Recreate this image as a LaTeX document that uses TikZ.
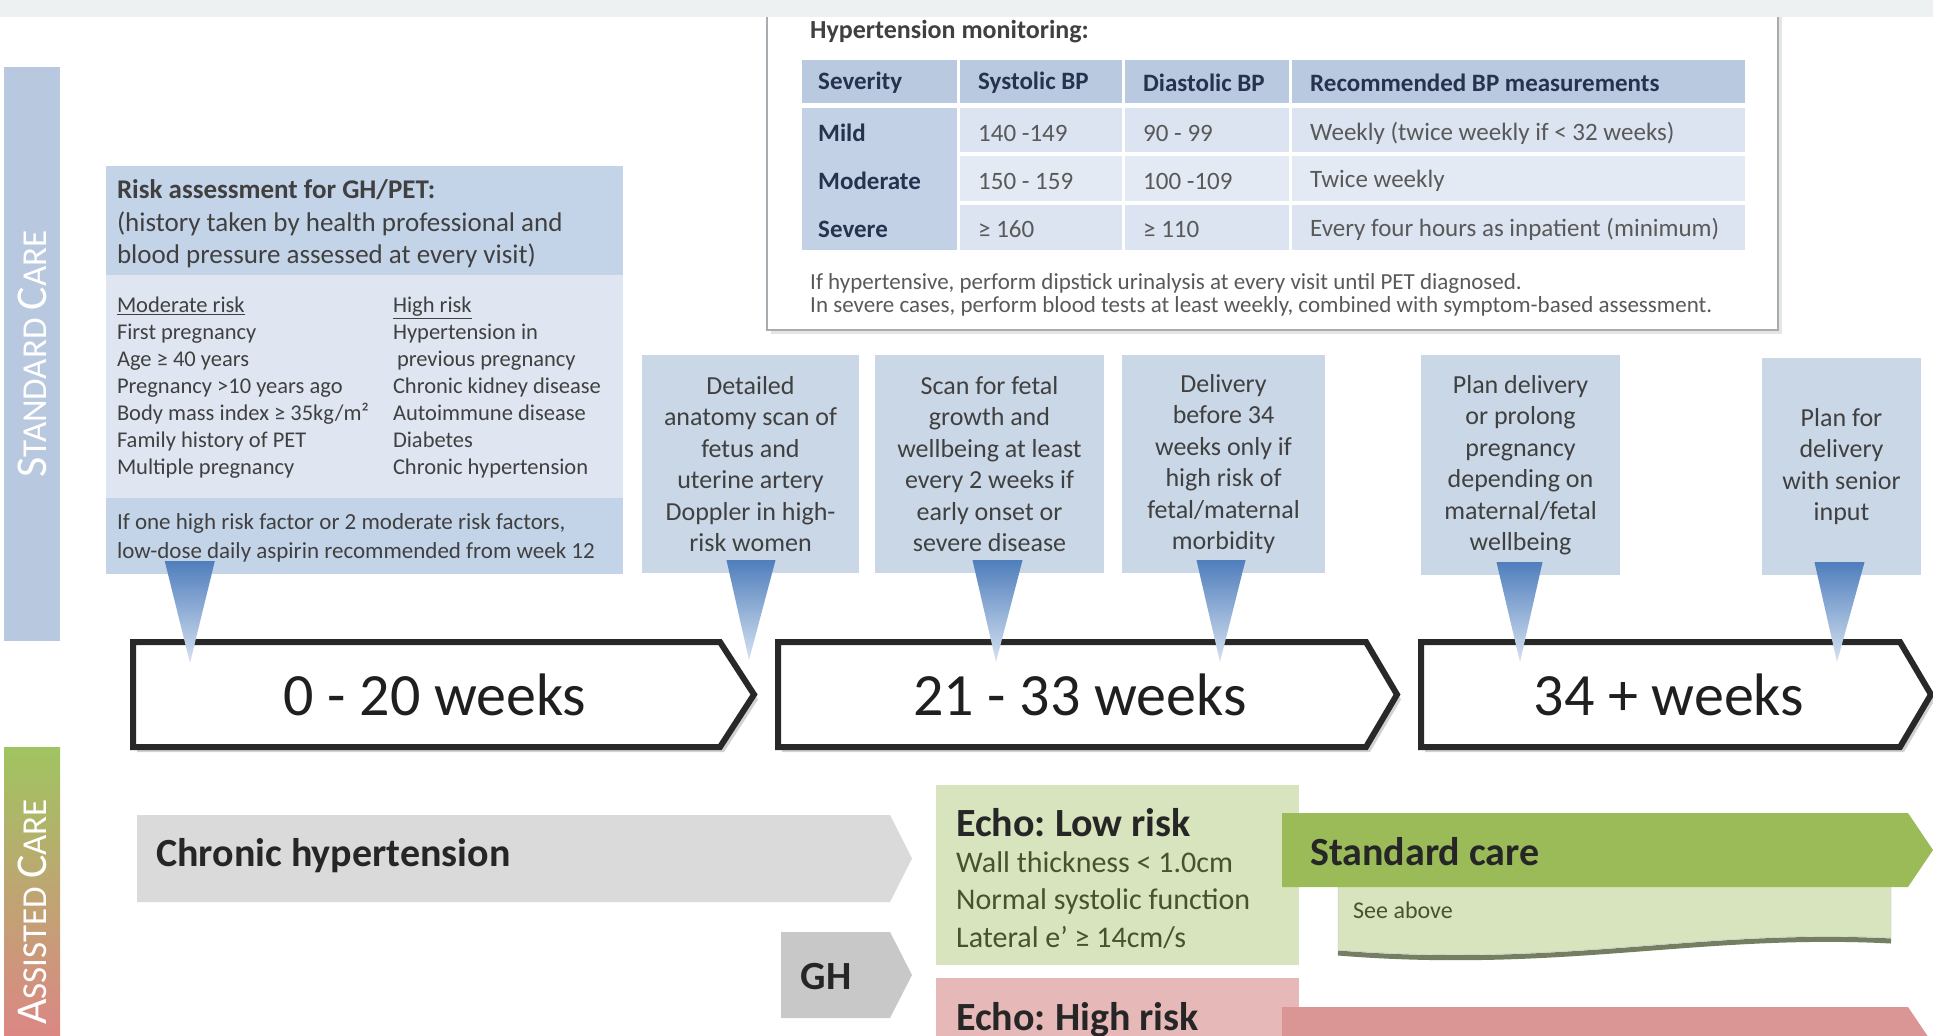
\documentclass[tikz,border=0pt]{standalone}
\usepackage{fontspec}
\setmainfont{Carlito}
\usetikzlibrary{positioning}
\frenchspacing
\definecolor{stripgray}{RGB}{238,241,241}
\definecolor{sidebar}{RGB}{184,200,223}
\definecolor{riskhead}{RGB}{196,212,232}
\definecolor{riskbody}{RGB}{223,230,241}
\definecolor{calloutblue}{RGB}{202,215,231}
\definecolor{tailtop}{RGB}{79,126,188}
\definecolor{tailbot}{RGB}{214,226,241}
\definecolor{tablehead}{RGB}{184,201,224}
\definecolor{tablecol}{RGB}{195,209,230}
\definecolor{rowlight}{RGB}{219,228,240}
\definecolor{rowpale}{RGB}{228,234,243}
\definecolor{framegray}{RGB}{168,173,178}
\definecolor{weekline}{RGB}{40,40,40}
\definecolor{chronicgray}{RGB}{218,218,218}
\definecolor{ghgray}{RGB}{200,200,200}
\definecolor{lowgreen}{RGB}{215,228,189}
\definecolor{highpink}{RGB}{230,185,184}
\definecolor{caregreen}{RGB}{155,187,89}
\definecolor{carered}{RGB}{217,150,148}
\definecolor{acgreen}{RGB}{160,196,96}
\definecolor{acmid}{RGB}{214,205,150}
\definecolor{acred}{RGB}{220,135,132}
\definecolor{inkgray}{RGB}{64,64,64}
\definecolor{navyink}{RGB}{38,50,78}
\definecolor{olive}{RGB}{70,84,44}

\begin{document}
\begin{tikzpicture}[x=1pt, y=-1pt,
  callout/.style={fill=calloutblue, inner sep=0pt, align=center, text=inkgray, font=\fontsize{26}{31.5}\selectfont},
  tail/.style={top color=tailtop, bottom color=tailbot},
  week/.style={fill=white, draw=weekline, line width=6pt, line join=miter},
  weekshadow/.style={fill=black!18},
  weektext/.style={font=\fontsize{60}{72}\selectfont, text=black!88},
  risktext/.style={inner sep=0pt, align=left, anchor=north west, text=inkgray, font=\fontsize{22.5}{27}\selectfont},
  cell/.style={inner sep=0pt, anchor=west, text=black!65, font=\fontsize{25}{30}\selectfont},
  headcell/.style={cell, text=navyink, font=\fontsize{25}{30}\selectfont\bfseries},
  sidetext/.style={text=white, rotate=90, inner sep=0pt},
  bigbold/.style={inner sep=0pt, anchor=west, text=black!85, font=\fontsize{40}{48}\selectfont\bfseries},
  echolist/.style={inner sep=0pt, anchor=north west, align=left, text=olive, font=\fontsize{30}{37.5}\selectfont}
]
  \clip (0,0) rectangle (1933,1036);
  \fill[white] (0,0) rectangle (1933,1036);

  \fill[black!10] (771,-5) rectangle (1782,334);
  \draw[framegray, line width=2.5pt, fill=white] (767,-5) rectangle (1778,330);
  \fill[stripgray] (0,0) rectangle (1933,17);
  \node[inner sep=0pt, anchor=west, text=inkgray, font=\fontsize{26}{31}\selectfont\bfseries] (hmtitle) at (810,32) {Hypertension monitoring:};
  \fill[tablehead] (802,60) rectangle (1745,103);
  \fill[tablecol] (802,108) rectangle (957,250);
  \fill[rowlight] (960,108) rectangle (1745,152);
  \fill[rowpale] (960,156) rectangle (1745,201);
  \fill[rowlight] (960,205) rectangle (1745,250);
  \draw[white, line width=3pt] (958.5,60) -- (958.5,250);
  \draw[white, line width=3pt] (1123,60) -- (1123,250);
  \draw[white, line width=3pt] (1290,60) -- (1290,250);
  \node[headcell] (sev) at (818,83) {Severity};
  \node[headcell] (sys) at (978,83) {Systolic BP};
  \node[headcell] (dia) at (1143,83) {Diastolic BP};
  \node[headcell] (rec) at (1310,83) {Recommended BP measurements};
  \node[headcell] (mild) at (818,133) {Mild};
  \node[cell] (mildsys) at (978,133) {140 -149};
  \node[cell] (milddia) at (1143,133) {90 - 99};
  \node[cell] (mildrec) at (1310,133) {Weekly (twice weekly if < 32 weeks)};
  \node[headcell] (mod) at (818,181) {Moderate};
  \node[cell] (modsys) at (978,181) {150 - 159};
  \node[cell] (moddia) at (1143,181) {100 -109};
  \node[cell] (modrec) at (1310,181) {Twice weekly};
  \node[headcell] (sevr) at (818,229) {Severe};
  \node[cell] (sevrsys) at (978,229) {≥ 160};
  \node[cell] (sevrdia) at (1143,229) {≥ 110};
  \node[cell] (sevrrec) at (1310,229) {Every four hours as inpatient (minimum)};
  \node[cell, font=\fontsize{23}{24}\selectfont] (note1) at (810,283) {If hypertensive, perform dipstick urinalysis at every visit until PET diagnosed.};
  \node[cell, font=\fontsize{23}{24}\selectfont] (note2) at (810,306) {In severe cases, perform blood tests at least weekly, combined with symptom-based assessment.};

  \fill[sidebar] (4,67) rectangle (60,641);
  \node[sidetext] (scside) at (32,354) {\fontsize{44}{50}\selectfont S\fontsize{35}{40}\selectfont TANDARD \fontsize{44}{50}\selectfont C\fontsize{35}{40}\selectfont ARE};
  \shade[top color=acgreen, middle color=acmid, bottom color=acred] (4,747) rectangle (60,1036);
  \node[sidetext] (acside) at (32,912) {\fontsize{44}{50}\selectfont A\fontsize{35}{40}\selectfont SSISTED \fontsize{44}{50}\selectfont C\fontsize{35}{40}\selectfont ARE};

  \node[fill=riskbody, inner sep=0pt, minimum width=517pt, minimum height=408pt] (risk) at (364.5,370) {};
  \fill[riskhead] (risk.north west) rectangle ([yshift=-109pt]risk.north east);
  \fill[riskhead] ([yshift=76pt]risk.south west) rectangle (risk.south east);
  \node[risktext, font=\fontsize{27}{32.5}\selectfont] (riskhead) at ([xshift=11pt,yshift=-14pt]risk.north west) {\textbf{Risk assessment for GH/PET:}\\(history taken by health professional and\\blood pressure assessed at every visit)};
  \node[risktext] (modrisk) at ([xshift=11pt,yshift=-131pt]risk.north west) {\underline{Moderate risk}\\First pregnancy\\Age ≥ 40 years\\Pregnancy >10 years ago\\Body mass index ≥ 35kg/m²\\Family history of PET\\Multiple pregnancy};
  \node[risktext] (highrisk) at ([xshift=287pt,yshift=-131pt]risk.north west) {\underline{High risk}\\Hypertension in\\\hspace{4pt}previous pregnancy\\Chronic kidney disease\\Autoimmune disease\\Diabetes\\Chronic hypertension};
  \node[risktext, font=\fontsize{23}{29}\selectfont] (aspirin) at ([xshift=11pt,yshift=61pt]risk.south west) {If one high risk factor or 2 moderate risk factors,\\low-dose daily aspirin recommended from week 12};

  \node[callout, minimum width=217pt, minimum height=218pt] (det) at (750.5,464) {Detailed\\anatomy scan of\\fetus and\\uterine artery\\Doppler in high-\\risk women};
  \node[callout, minimum width=229pt, minimum height=218pt] (scan) at (989.5,464) {Scan for fetal\\growth and\\wellbeing at least\\every 2 weeks if\\early onset or\\severe disease};
  \node[callout, minimum width=203pt, minimum height=218pt] (deliv) at (1223.5,464) {Delivery\\before 34\\weeks only if\\high risk of\\fetal/maternal\\morbidity};
  \node[callout, minimum width=199pt, minimum height=220pt] (plan) at (1520.5,465) {Plan delivery\\or prolong\\pregnancy\\depending on\\maternal/fetal\\wellbeing};
  \node[callout, minimum width=159pt, minimum height=217pt] (senior) at (1841.5,466.5) {Plan for\\delivery\\with senior\\input};

  \fill[weekshadow] (137,647) -- (724,647) -- (758,699.5) -- (724,752) -- (137,752) -- cycle;
  \fill[weekshadow] (782,647) -- (1370,647) -- (1401,699.5) -- (1370,752) -- (782,752) -- cycle;
  \fill[weekshadow] (1425,647) -- (1904,647) -- (1935,699.5) -- (1904,752) -- (1425,752) -- cycle;
  \draw[week] (133,642) -- (720,642) -- (754,694.5) -- (720,747) -- (133,747) -- cycle;
  \draw[week] (778,642) -- (1366,642) -- (1397,694.5) -- (1366,747) -- (778,747) -- cycle;
  \draw[week] (1421,642) -- (1900,642) -- (1931,694.5) -- (1900,747) -- (1421,747) -- cycle;
  \node[weektext, anchor=base] (w1) at (435,715) {0 - 20 weeks};
  \node[weektext, anchor=base] (w2) at (1080,715) {21 - 33 weeks};
  \node[weektext, anchor=base] (w3) at (1669,715) {34 + weeks};

  \coordinate (risktip) at (190,663);
  \coordinate (dettip) at (749,660);
  \coordinate (scantip) at (996,662);
  \coordinate (delivtip) at (1220,662);
  \coordinate (plantip) at (1520,662);
  \coordinate (seniortip) at (1837,662);
  \shade[tail] ([xshift=59pt,yshift=13pt]risk.south west) -- ([xshift=109pt,yshift=13pt]risk.south west) -- (risktip) -- cycle;
  \shade[tail] ([xshift=-24pt,yshift=13pt]det.south) -- ([xshift=25pt,yshift=13pt]det.south) -- (dettip) -- cycle;
  \shade[tail] ([xshift=-17pt,yshift=13pt]scan.south) -- ([xshift=33pt,yshift=13pt]scan.south) -- (scantip) -- cycle;
  \shade[tail] ([xshift=-27pt,yshift=13pt]deliv.south) -- ([xshift=22pt,yshift=13pt]deliv.south) -- (delivtip) -- cycle;
  \shade[tail] ([xshift=-24pt,yshift=13pt]plan.south) -- ([xshift=22pt,yshift=13pt]plan.south) -- (plantip) -- cycle;
  \shade[tail] ([xshift=-27pt,yshift=13pt]senior.south) -- ([xshift=23pt,yshift=13pt]senior.south) -- (seniortip) -- cycle;

  \fill[chronicgray] (137,815) -- (890,815) -- (912,858.5) -- (890,902) -- (137,902) -- cycle;
  \node[bigbold] (chronic) at (156,856) {Chronic hypertension};
  \fill[ghgray] (781,932) -- (890,932) -- (912,975) -- (890,1018) -- (781,1018) -- cycle;
  \node[bigbold, anchor=center] (gh) at (826,977) {GH};

  \fill[lowgreen] (936,785) rectangle (1299,965);
  \node[bigbold] (lowtitle) at (956,823) {Echo: Low risk};
  \node[echolist] (lowlist) at (956,851) {Wall thickness < 1.0cm\\Normal systolic function\\Lateral e' ≥ 14cm/s};
  \fill[highpink] (936,978) rectangle (1299,1050);
  \node[bigbold] (hightitle) at (956,1020) {Echo: High risk};

  \draw[line width=5pt, olive!75] (1338,953) .. controls (1560,971) and (1700,931) .. (1891,941);
  \fill[lowgreen, draw=black!25] (1338,880) -- (1891,880) -- (1891,938) .. controls (1700,928) and (1560,968) .. (1338,950) -- cycle;
  \fill[caregreen] (1282,813) -- (1908,813) -- (1933,850) -- (1908,887) -- (1282,887) -- cycle;
  \node[bigbold] (stdcare) at (1310,852) {Standard care};
  \node[inner sep=0pt, anchor=west, text=olive, font=\fontsize{24}{28}\selectfont] (seeabove) at (1353,910) {See above};
  \fill[carered] (1282,1007) -- (1908,1007) -- (1933,1044) -- (1908,1081) -- (1282,1081) -- cycle;
\end{tikzpicture}
\end{document}
